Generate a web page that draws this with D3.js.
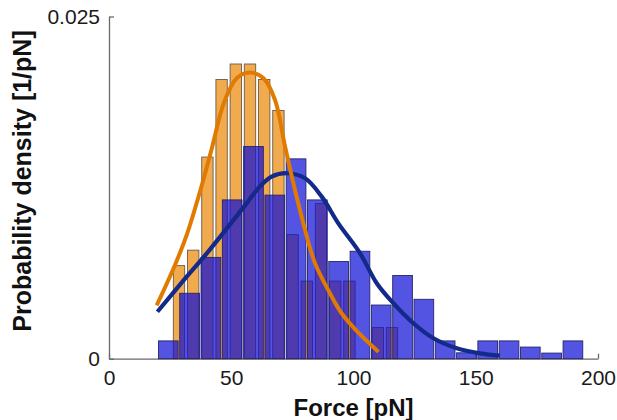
<!DOCTYPE html>
<html>
<head>
<meta charset="utf-8">
<script src="https://cdn.jsdelivr.net/npm/d3@7/dist/d3.min.js"></script>
<style>
  html, body { margin: 0; padding: 0; background: #fff; }
  svg { display: block; }
  text { font-family: "Liberation Sans", Arial, Helvetica, sans-serif; }
</style>
</head>
<body>
<svg id="chart" width="617" height="420"></svg>
<script>
// Histogram of the second population (blue): bin centres [pN] and densities [1/pN]
const blueCenters = [24.25, 32.96, 41.67, 50.38, 59.09, 67.80, 76.51, 85.22, 93.93, 102.64,
                     111.35, 120.06, 128.77, 137.48, 146.19, 154.90, 163.61, 172.32, 181.03, 189.74];
const blueDensity = [0.00130, 0.00478, 0.00740, 0.01160, 0.01550, 0.01195, 0.01460, 0.01160, 0.00710, 0.00785,
                     0.00392, 0.00608, 0.00434, 0.00130, 0.00043, 0.00130, 0.00130, 0.00085, 0.00041, 0.00130];
const blueBinWidth = 8.71;

// Histogram of the first population (orange)
const orangeCenters = [28.63, 34.44, 40.25, 46.05, 51.86, 57.67, 63.48, 69.29,
                       75.09, 80.90, 86.71, 92.52, 98.33, 104.13, 109.94, 115.75];
const orangeDensity = [0.00680, 0.00793, 0.01473, 0.02040, 0.02153, 0.02153, 0.02040, 0.01813,
                       0.00906, 0.00567, 0.01133, 0.00567, 0.00567, 0, 0.00227, 0.00227];
const orangeBinWidth = 5.808;

// Fitted density curves
const orangeFitForce   = [19.5, 27.0, 31.9, 37.2, 42.1, 47.0, 52.3, 57.7, 63.1, 67.9, 72.0, 76.1, 80.2, 84.2, 89.7, 95.2, 102.0, 110.2];
const orangeFitDensity = [0.0039, 0.00685, 0.0091, 0.0122, 0.0154, 0.0187, 0.0205, 0.0209, 0.0205, 0.0189, 0.0155, 0.0123, 0.0094, 0.0070, 0.0050, 0.0033, 0.0019, 0.0005];
const blueFitForce   = [19.8, 30.4, 40.0, 48.1, 56.3, 61.8, 66.5, 72.7, 80.2, 87.0, 93.8, 102.7, 109.5, 116.3, 124.5, 132.7, 142.2, 151.7, 159.9];
const blueFitDensity = [0.00343, 0.0057, 0.0077, 0.0095, 0.01135, 0.0126, 0.0133, 0.01355, 0.01318, 0.01184, 0.00989, 0.0077, 0.00551, 0.00405, 0.00259, 0.00149, 0.00076, 0.00039, 0.00022];

// Axis ticks
const xTicks = [0, 50, 100, 150, 200];
const yTicks = [0, 0.025];

const svg = d3.select("#chart");
const x = d3.scaleLinear().domain([0, 200]).range([109, 598]);
const y = d3.scaleLinear().domain([0, 0.025]).range([358.7, 16.5]);

// Axes (drawn underneath the bars, ticks pointing inward)
const axisColor = "#6a6a6a";
const gx = svg.append("g")
  .attr("transform", `translate(0,${y(0)})`)
  .call(d3.axisBottom(x).tickValues(xTicks).tickFormat(d3.format("d"))
        .tickSizeInner(-5).tickSizeOuter(0).tickPadding(11));
const gy = svg.append("g")
  .attr("transform", `translate(${x(0)},0)`)
  .call(d3.axisLeft(y).tickValues(yTicks).tickFormat(d => d === 0 ? "0" : String(d))
        .tickSizeInner(-5).tickSizeOuter(0).tickPadding(9));
[gx, gy].forEach(g => {
  g.select(".domain").attr("stroke", axisColor).attr("stroke-width", 1.3);
  g.selectAll(".tick line").attr("stroke", axisColor).attr("stroke-width", 1.3);
  g.selectAll(".tick text").attr("font-size", 21).attr("fill", "#1a1a1a")
    .attr("font-family", "Liberation Sans, Arial, sans-serif");
});

// Orange histogram (opaque, behind)
const oPx = x(orangeBinWidth) - x(0);
svg.append("g").selectAll("rect")
  .data(orangeCenters.map((c, i) => ({ c, v: orangeDensity[i] })).filter(d => d.v > 0))
  .join("rect")
  .attr("x", d => x(d.c) - oPx * 0.4)
  .attr("width", oPx * 0.8)
  .attr("y", d => y(d.v))
  .attr("height", d => y(0) - y(d.v))
  .attr("fill", "#f2aa4e")
  .attr("stroke", "#6b5a48")
  .attr("stroke-width", 0.9);

// Blue histogram (translucent, on top)
const bPx = x(blueBinWidth) - x(0);
svg.append("g").selectAll("rect")
  .data(blueCenters.map((c, i) => ({ c, v: blueDensity[i] })))
  .join("rect")
  .attr("x", d => x(d.c) - bPx / 2 + 0.8)
  .attr("width", bPx - 1.6)
  .attr("y", d => y(d.v))
  .attr("height", d => y(0) - y(d.v))
  .attr("fill", "rgb(12,12,215)")
  .attr("fill-opacity", 0.7)
  .attr("stroke", "#25256a")
  .attr("stroke-width", 0.9);

// Fitted curves
const line = d3.line().x(d => x(d[0])).y(d => y(d[1])).curve(d3.curveCatmullRom.alpha(0.5));
svg.append("path")
  .attr("d", line(blueFitForce.map((f, i) => [f, blueFitDensity[i]])))
  .attr("fill", "none").attr("stroke", "#132a8a").attr("stroke-width", 4.2);
svg.append("path")
  .attr("d", line(orangeFitForce.map((f, i) => [f, orangeFitDensity[i]])))
  .attr("fill", "none").attr("stroke", "#e07a00").attr("stroke-width", 4);

// Axis titles
svg.append("text")
  .attr("x", (x(0) + x(200)) / 2).attr("y", 416)
  .attr("text-anchor", "middle").attr("font-size", 24).attr("font-weight", "bold")
  .attr("fill", "#111")
  .text("Force [pN]");
svg.append("text")
  .attr("transform", "translate(31,181) rotate(-90)")
  .attr("text-anchor", "middle").attr("font-size", 25).attr("font-weight", "bold")
  .attr("fill", "#111")
  .text("Probability density [1/pN]");
</script>
</body>
</html>
